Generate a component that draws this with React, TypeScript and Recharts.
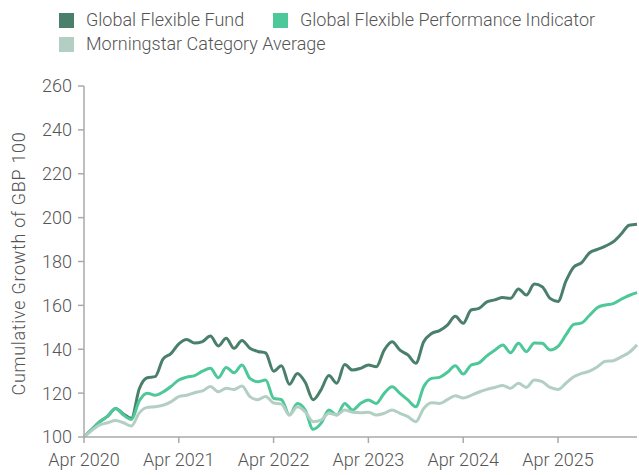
import { LineChart, Line, XAxis, YAxis, Label } from "recharts";

const MONTH_NAMES = ["Jan", "Feb", "Mar", "Apr", "May", "Jun", "Jul", "Aug", "Sep", "Oct", "Nov", "Dec"];

// Apr 2020 .. Feb 2026, monthly
const months: string[] = [];
for (let i = 0; i < 71; i++) {
  const m = (3 + i) % 12;
  const y = 2020 + Math.floor((3 + i) / 12);
  months.push(`${MONTH_NAMES[m]} ${y}`);
}

const fund = [
  100, 103.5, 107, 109.5, 113, 110.5, 108.5, 122, 127, 127.5,
  135.5, 138, 142.5, 144.5, 142.8, 143.5, 146, 141.5, 145, 140.4,
  144, 140.5, 139, 138.3, 130, 132.5, 124, 129, 125, 117,
  121.5, 128, 124.5, 133, 130.5, 131.3, 132.8, 132, 139.6, 143.4,
  139.6, 137.4, 133.6, 143.4, 147.2, 148.5, 151, 155, 151.8, 157.9,
  158.6, 161.6, 162.5, 163.6, 163.2, 167.5, 164.7, 169.7, 168.5, 163.2,
  161.8, 171, 177.5, 179.5, 184, 185.5, 187, 189, 192.5, 196.5,
  197,
];

const indicator = [
  100, 103.5, 107, 109.5, 113, 110, 108, 116.5, 120, 119,
  120.5, 123, 126, 127.3, 128, 130, 131.3, 127, 131.7, 129.3,
  132.8, 126.7, 125.2, 126, 117.6, 117, 110, 115.3, 112.3, 103.5,
  106.2, 112.3, 110, 115.3, 112.3, 115.3, 116.9, 115.3, 119.9, 122.9,
  119.9, 116.9, 113.8, 122.9, 126.7, 127.2, 129.5, 132.5, 128.7, 132.8,
  133.8, 137, 139.5, 141.9, 138.4, 142.7, 138.9, 142.9, 142.7, 139.7,
  141.3, 146.5, 151.3, 152, 155.5, 159, 160.2, 160.8, 162.8, 164.5,
  165.8,
];

const categoryAvg = [
  100, 103, 105.5, 106.5, 107.5, 106.5, 105, 111, 113.5, 113.8,
  114.5, 116, 118.4, 119, 120.2, 121, 123, 120.6, 122.2, 121.7,
  123.2, 118.4, 117, 118.5, 115.5, 115, 110, 113.8, 111.5, 107,
  107.7, 110.8, 110, 112.3, 111.3, 111.1, 111.3, 110, 110.8, 112.3,
  110.8, 109.3, 107, 113, 115.6, 115.3, 117, 118.8, 117.8, 119,
  120.5, 121.7, 122.6, 123.5, 122.2, 124.5, 122.6, 126, 125.2, 122.6,
  121.7, 124.5, 127.5, 129, 130, 132, 134.5, 134.8, 136.5, 138.5,
  142,
];

const yTicks = [100, 120, 140, 160, 180, 200, 220, 240, 260];

const data = months.map((month, i) => ({
  month,
  fund: fund[i],
  indicator: indicator[i],
  category: categoryAvg[i],
}));

const series = [
  { key: "fund", name: "Global Flexible Fund", color: "#4a806b" },
  { key: "indicator", name: "Global Flexible Performance Indicator", color: "#4dc898" },
  { key: "category", name: "Morningstar Category Average", color: "#b3cfc4" },
];

const textColor = "#555555";
const axisColor = "#aaaaaa";
const font = "Roboto, sans-serif";

function LegendItem({ name, color, x, y }: { name: string; color: string; x: number; y: number }) {
  return (
    <div style={{ position: "absolute", left: x, top: y, display: "flex", alignItems: "center", whiteSpace: "nowrap" }}>
      <div style={{ width: 15, height: 15, background: color, marginRight: 12 }} />
      <span style={{ fontSize: 18, fontWeight: 300, color: textColor, lineHeight: "18px" }}>{name}</span>
    </div>
  );
}

export default function App() {
  return (
    <div style={{ position: "relative", width: 639, height: 475, fontFamily: font, background: "#fff" }}>
      <style>{`body{margin:0}`}</style>
      <LegendItem name={series[0].name} color={series[0].color} x={59} y={11} />
      <LegendItem name={series[1].name} color={series[1].color} x={273} y={11} />
      <LegendItem name={series[2].name} color={series[2].color} x={59} y={35} />
      <LineChart width={639} height={475} data={data} margin={{ top: 86, right: 2, bottom: 0, left: 0 }}>
        <XAxis
          dataKey="month"
          interval={11}
          height={38}
          stroke={axisColor}
          strokeWidth={1.5}
          tickSize={6}
          tickMargin={10}
          tick={{ fill: textColor, fontSize: 18, fontWeight: 300, fontFamily: font }}
          padding={{ left: 0, right: 0 }}
        />
        <YAxis
          domain={[100, 260]}
          ticks={yTicks}
          width={84}
          stroke={axisColor}
          strokeWidth={1.5}
          tickSize={6}
          tickMargin={6}
          tick={{ fill: textColor, fontSize: 18, fontWeight: 300, fontFamily: font }}
          allowDataOverflow
        >
          <Label
            content={({ viewBox }: any) => {
              const cx = 18;
              const cy = viewBox.y + viewBox.height / 2 + 2;
              return (
                <text
                  x={cx}
                  y={cy}
                  transform={`rotate(-90 ${cx} ${cy})`}
                  textAnchor="middle"
                  dominantBaseline="central"
                  fill={textColor}
                  fontSize={18}
                  fontWeight={300}
                  letterSpacing={0.7}
                  fontFamily={font}
                >
                  Cumulative Growth of GBP 100
                </text>
              );
            }}
          />
        </YAxis>
        {series.map((s) => (
          <Line
            key={s.key}
            type="monotone"
            dataKey={s.key}
            name={s.name}
            stroke={s.color}
            strokeWidth={3}
            dot={false}
            activeDot={false}
            isAnimationActive={false}
          />
        ))}
      </LineChart>
    </div>
  );
}
